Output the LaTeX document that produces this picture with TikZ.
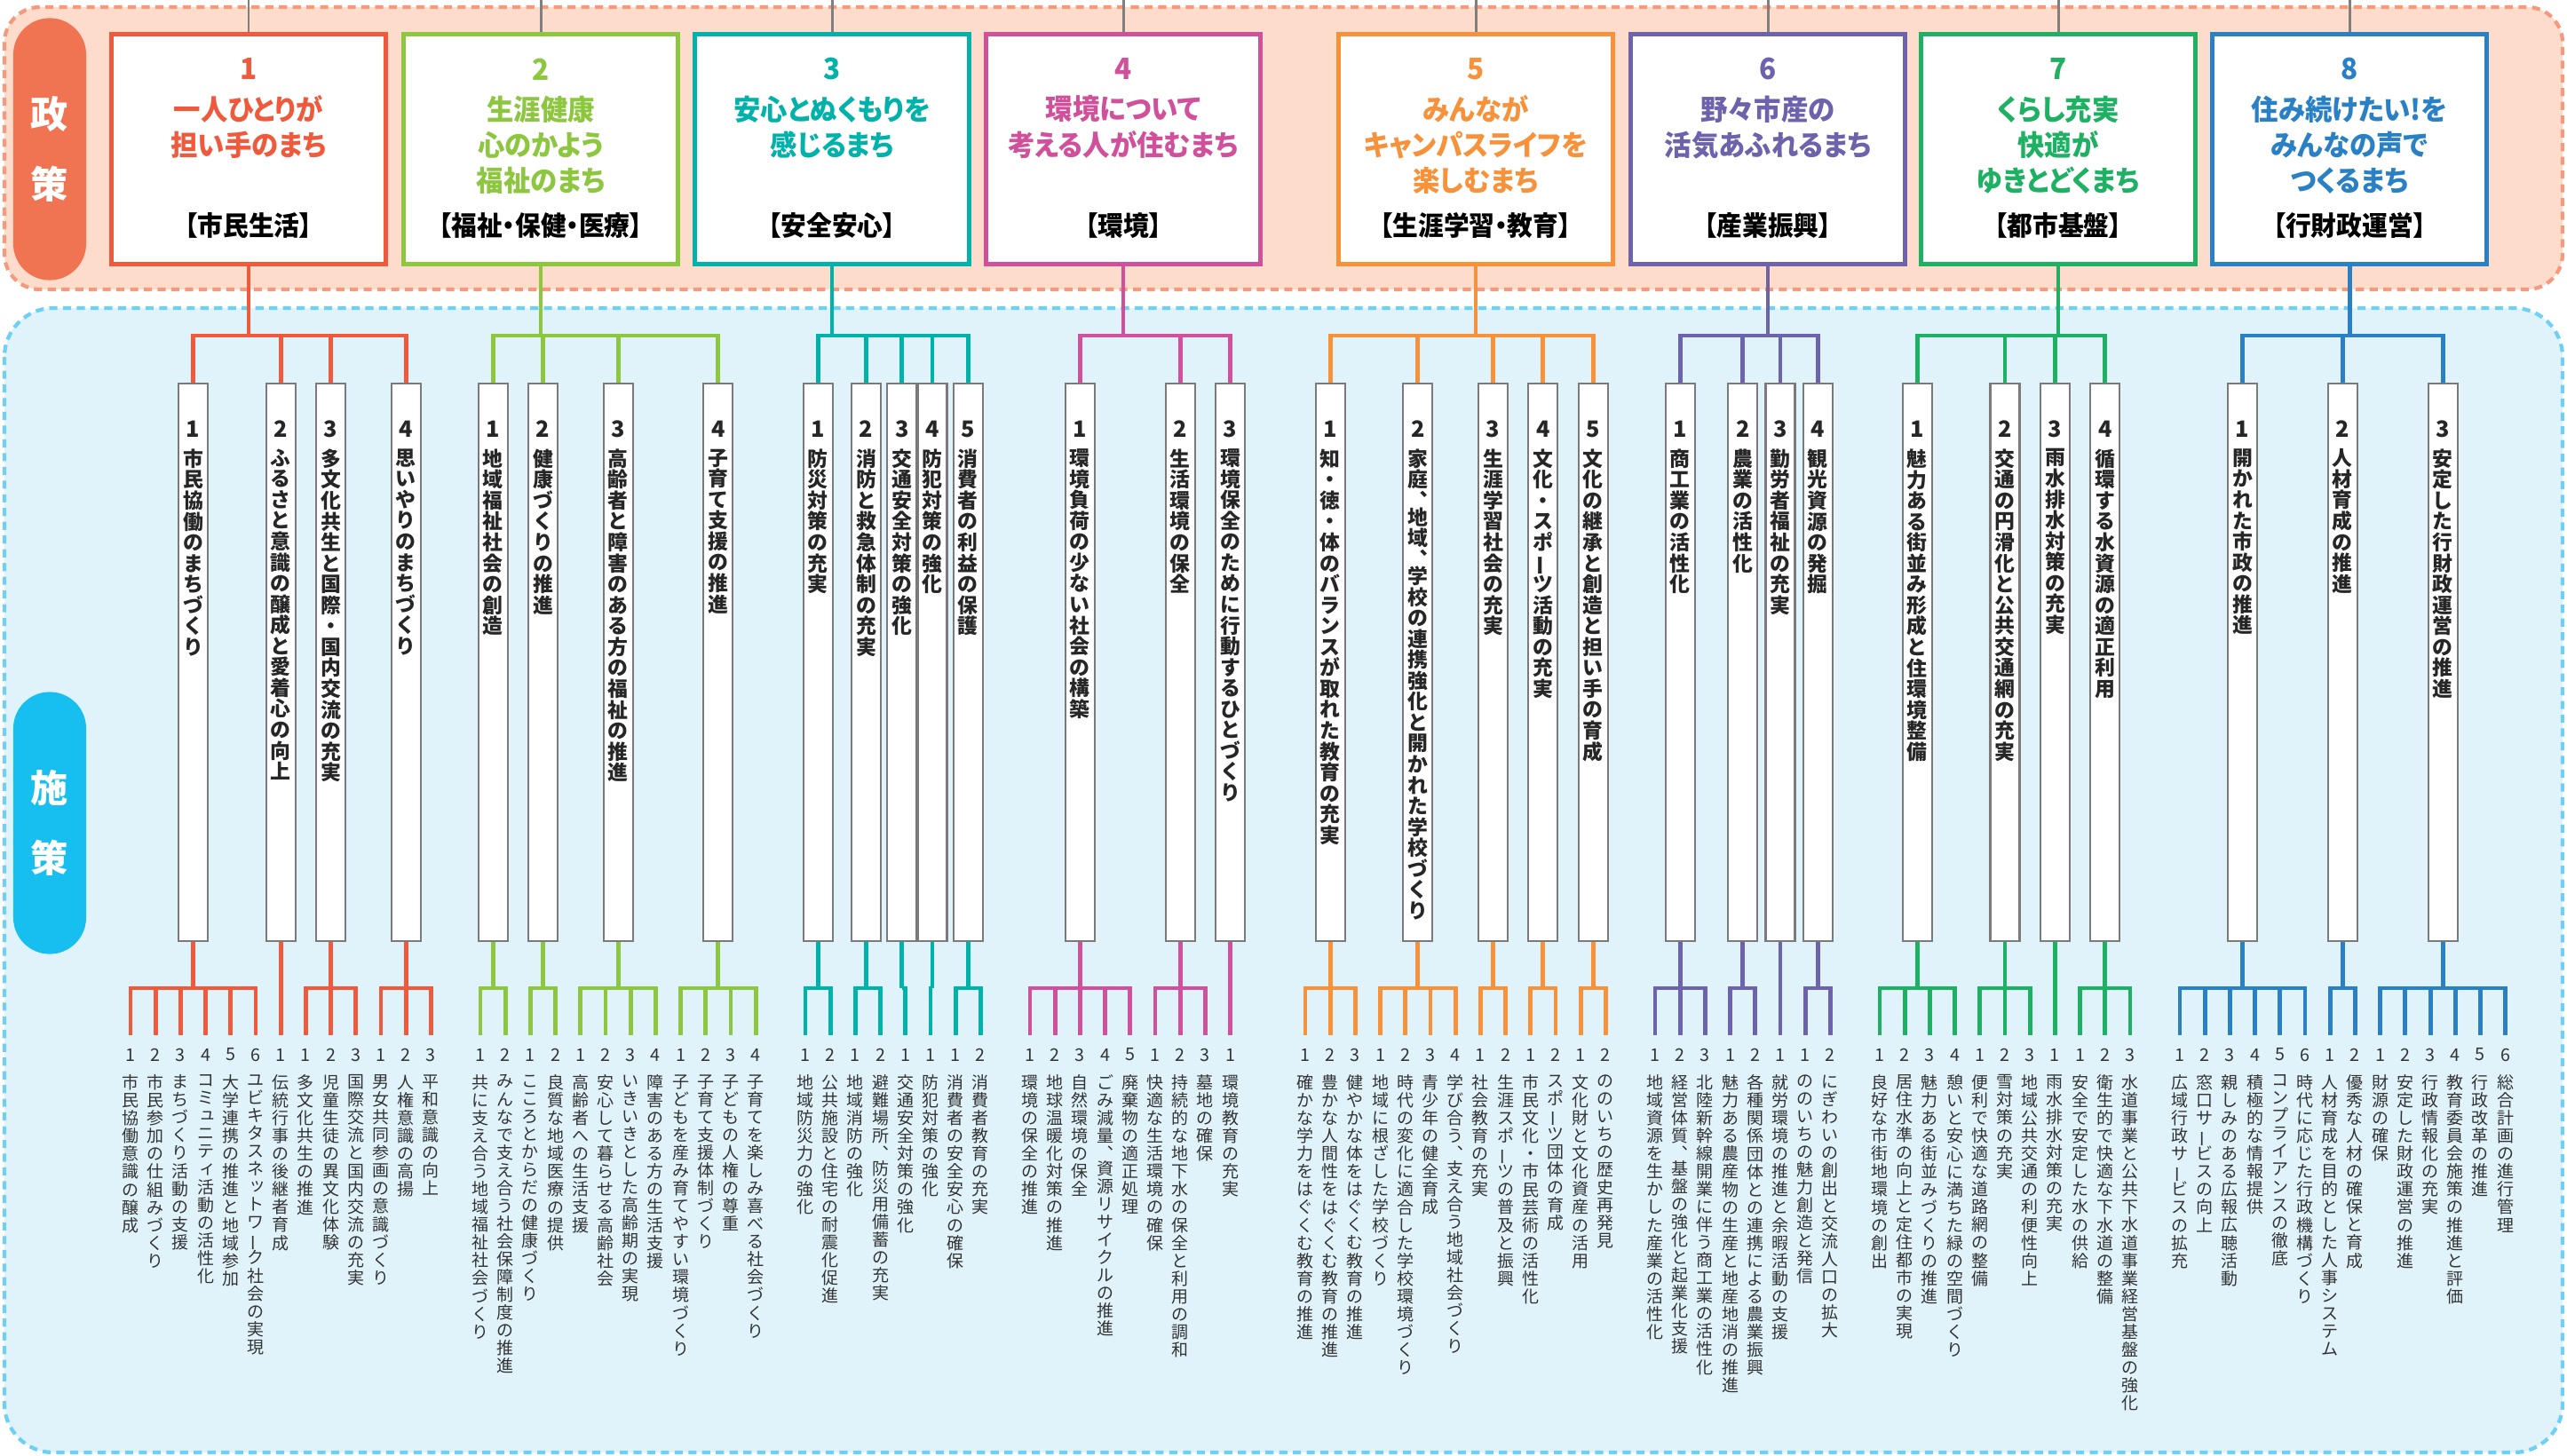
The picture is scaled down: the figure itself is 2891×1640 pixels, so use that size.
\documentclass[tikz,border=0pt]{standalone}
\usepackage{fontspec}
\setmainfont{Noto Sans CJK JP}
\newfontfamily\jptitle{Noto Sans CJK JP}[RawFeature=+palt, FakeStretch=0.95]
\definecolor{pol1}{HTML}{EF5A3D}
\definecolor{pol2}{HTML}{8DC63F}
\definecolor{pol3}{HTML}{00B2A9}
\definecolor{pol4}{HTML}{D0509B}
\definecolor{pol5}{HTML}{F7923A}
\definecolor{pol6}{HTML}{6D62AC}
\definecolor{pol7}{HTML}{1EB063}
\definecolor{pol8}{HTML}{2A80C5}
\definecolor{seiband}{HTML}{FDDCCC}
\definecolor{seidash}{HTML}{F59A7D}
\definecolor{seipill}{HTML}{F07352}
\definecolor{shiband}{HTML}{E0F3FB}
\definecolor{shidash}{HTML}{6FD0F5}
\definecolor{shipill}{HTML}{16BFF0}
\definecolor{feedgray}{HTML}{7F7F7F}
\definecolor{boxgray}{HTML}{7A7A7A}
\definecolor{txtgray}{HTML}{333333}
% vertical (tate) text: one upright character per line
\ExplSyntaxOn
\tl_new:N \l__tate_tl
\cs_new_protected:Npn \__tate_char:n #1
  {
    \str_case:nnF {#1}
      {
        {ー} { \hbox_to_wd:nn {1em} { \hss \smash{\rotatebox[origin=c]{90}{ー}} \hss } }
        {、} { \hbox_to_wd:nn {1em} { \hss ︑ \hss } \kern-0.2em }
      }
      {
        \tl_if_in:nnTF { ァィゥェォッャュョぁぃぅぇぉっゃゅょ } {#1}
          { \hbox_to_wd:nn {1em} { \kern0.12em \raisebox{0.1em}{#1} \hss } }
          { \hbox_to_wd:nn {1em} { \hss #1 \hss } }
      }
  }
\NewDocumentCommand \tate { m }
  {
    \tl_set:Nx \l__tate_tl {#1}
    \vbox { \tl_map_function:NN \l__tate_tl \__tate_char:n }
  }
\ExplSyntaxOff

\begin{document}
\begin{tikzpicture}[x=0.01cm, y=-0.01cm,
  band/.style={line width=1.2pt, dash pattern=on 2.6pt off 1.8pt},
  pill/.style={rounded corners=0.41cm, minimum width=0.82cm, minimum height=2.95cm, inner sep=0pt,
    align=center, text=white, font=\bfseries\fontsize{12pt}{22.6pt}\selectfont},
  polbox/.style={line width=1.4pt, fill=white, minimum width=3.08cm, minimum height=2.58cm, inner sep=0pt},
  poldigit/.style={inner sep=0pt, font=\jptitle\bfseries\fontsize{9.4pt}{11pt}\selectfont},
  poltitle/.style={anchor=north, align=center, inner sep=0pt, font=\jptitle\bfseries\fontsize{9.1pt}{11.4pt}\selectfont},
  polcat/.style={inner sep=0pt, text=black, font=\jptitle\bfseries\fontsize{8.6pt}{10pt}\selectfont},
  subbox/.style={draw=boxgray, line width=0.6pt, fill=white, minimum width=0.33cm, minimum height=6.28cm, inner sep=0pt},
  subnum/.style={inner sep=0pt, text=black!85, font=\bfseries\fontsize{7.2pt}{8pt}\selectfont},
  subtxt/.style={anchor=north, inner sep=0pt, text=black!85, font=\bfseries\fontsize{6.5pt}{6.7pt}\selectfont},
  itemnum/.style={inner sep=0pt, text=txtgray, font=\fontsize{5.6pt}{6pt}\selectfont},
  itemtxt/.style={anchor=north, inner sep=0pt, text=txtgray, font=\fontsize{5.4pt}{5.7pt}\selectfont},
  tree/.style={line width=1.4pt},
  feed/.style={draw=feedgray, line width=0.85pt},
]
\useasboundingbox (0,0) rectangle (2891,1640);
\fill[white] (0,0) rectangle (2891,1640);
% 1 px of the page = 0.01cm, y runs downwards
\draw[band, draw=seidash, fill=seiband, rounded corners=0.4cm] (5,8) rectangle (2886,326);
\draw[band, draw=shidash, fill=shiband, rounded corners=0.55cm] (5,347) rectangle (2886,1636);
\node[pill, fill=seipill] (seipill) at (56,168) {政\\策};
\node[pill, fill=shipill] (shipill) at (56,927) {施\\策};

% policies
\foreach \p/\x/\ttl/\cat in {%
  1/280/{一人ひとりが\\担い手のまち}/{【市民生活】},
  2/609/{生涯健康\\心のかよう\\福祉のまち}/{【福祉・保健・医療】},
  3/937/{安心とぬくもりを\\感じるまち}/{【安全安心】},
  4/1265/{環境について\\考える人が住むまち}/{【環境】},
  5/1662/{みんなが\\キャンパスライフを\\楽しむまち}/{【生涯学習・教育】},
  6/1991/{野々市産の\\活気あふれるまち}/{【産業振興】},
  7/2318/{くらし充実\\快適が\\ゆきとどくまち}/{【都市基盤】},
  8/2646/{住み続けたい!を\\みんなの声で\\つくるまち}/{【行財政運営】}%
} {
  \coordinate (top\p) at (\x,0);
  \coordinate (j\p) at (\x,378);
  \node[polbox, draw=pol\p] (p\p) at (\x,168) {};
  \node[poldigit, text=pol\p] (pn\p) at (\x,78) {\p};
  \node[poltitle, text=pol\p] (pt\p) at (\x,107) {\ttl};
  \node[polcat] (pc\p) at (\x,254) {\cat};
  \draw[feed] (top\p) -- (p\p.north);
  \draw[tree, draw=pol\p] (p\p.south) -- (j\p);
}

% measures: policy / number / x of first item / index of first item / items / shift of box / title / items
\foreach \p/\s/\base/\st/\cnt/\dx/\ttl/\items in {%
  1/1/147/0/6/0/{市民協働のまちづくり}/{市民協働意識の醸成,市民参加の仕組みづくり,まちづくり活動の支援,コミュニティ活動の活性化,大学連携の推進と地域参加,ユビキタスネットワーク社会の実現},
  1/2/147/6/1/0/{ふるさと意識の醸成と愛着心の向上}/{伝統行事の後継者育成},
  1/3/147/7/3/0/{多文化共生と国際・国内交流の充実}/{多文化共生の推進,児童生徒の異文化体験,国際交流と国内交流の充実},
  1/4/147/10/3/0/{思いやりのまちづくり}/{男女共同参画の意識づくり,人権意識の高揚,平和意識の向上},
  2/1/541/0/2/0/{地域福祉社会の創造}/{共に支え合う地域福祉社会づくり,みんなで支え合う社会保障制度の推進},
  2/2/541/2/2/0/{健康づくりの推進}/{こころとからだの健康づくり,良質な地域医療の提供},
  2/3/541/4/4/0/{高齢者と障害のある方の福祉の推進}/{高齢者への生活支援,安心して暮らせる高齢社会,いきいきとした高齢期の実現,障害のある方の生活支援},
  2/4/541/8/4/0/{子育て支援の推進}/{子どもを産み育てやすい環境づくり,子育て支援体制づくり,子どもの人権の尊重,子育てを楽しみ喜べる社会づくり},
  3/1/907/0/2/0/{防災対策の充実}/{地域防災力の強化,公共施設と住宅の耐震化促進},
  3/2/907/2/2/-2/{消防と救急体制の充実}/{地域消防の強化,避難場所、防災用備蓄の充実},
  3/3/907/4/1/-4/{交通安全対策の強化}/{交通安全対策の強化},
  3/4/907/5/1/2/{防犯対策の強化}/{防犯対策の強化},
  3/5/907/6/2/0/{消費者の利益の保護}/{消費者の安全安心の確保,消費者教育の充実},
  4/1/1160/0/5/0/{環境負荷の少ない社会の構築}/{環境の保全の推進,地球温暖化対策の推進,自然環境の保全,ごみ減量、資源リサイクルの推進,廃棄物の適正処理},
  4/2/1160/5/3/0/{生活環境の保全}/{快適な生活環境の確保,持続的な地下水の保全と利用の調和,墓地の確保},
  4/3/1160/8/1/0/{環境保全のために行動するひとづくり}/{環境教育の充実},
  5/1/1470/0/3/0/{知・徳・体のバランスが取れた教育の充実}/{確かな学力をはぐくむ教育の推進,豊かな人間性をはぐくむ教育の推進,健やかな体をはぐくむ教育の推進},
  5/2/1470/3/4/0/{家庭、地域、学校の連携強化と開かれた学校づくり}/{地域に根ざした学校づくり,時代の変化に適合した学校環境づくり,青少年の健全育成,学び合う、支え合う地域社会づくり},
  5/3/1470/7/2/0/{生涯学習社会の充実}/{社会教育の充実,生涯スポーツの普及と振興},
  5/4/1470/9/2/0/{文化・スポーツ活動の充実}/{市民文化・市民芸術の活性化,スポーツ団体の育成},
  5/5/1470/11/2/0/{文化の継承と創造と担い手の育成}/{文化財と文化資産の活用,ののいちの歴史再発見},
  6/1/1864/0/3/0/{商工業の活性化}/{地域資源を生かした産業の活性化,経営体質、基盤の強化と起業化支援,北陸新幹線開業に伴う商工業の活性化},
  6/2/1864/3/2/0/{農業の活性化}/{魅力ある農産物の生産と地産地消の推進,各種関係団体との連携による農業振興},
  6/3/1864/5/1/0/{勤労者福祉の充実}/{就労環境の推進と余暇活動の支援},
  6/4/1864/6/2/0/{観光資源の発掘}/{ののいちの魅力創造と発信,にぎわいの創出と交流人口の拡大},
  7/1/2117/0/4/0/{魅力ある街並み形成と住環境整備}/{良好な市街地環境の創出,居住水準の向上と定住都市の実現,魅力ある街並みづくりの推進,憩いと安心に満ちた緑の空間づくり},
  7/2/2117/4/3/0/{交通の円滑化と公共交通網の充実}/{便利で快適な道路網の整備,雪対策の充実,地域公共交通の利便性向上},
  7/3/2117/7/1/0/{雨水排水対策の充実}/{雨水排水対策の充実},
  7/4/2117/8/3/0/{循環する水資源の適正利用}/{安全で安定した水の供給,衛生的で快適な下水道の整備,水道事業と公共下水道事業経営基盤の強化},
  8/1/2455/0/6/0/{開かれた市政の推進}/{広域行政サービスの拡充,窓口サービスの向上,親しみのある広報広聴活動,積極的な情報提供,コンプライアンスの徹底,時代に応じた行政機構づくり},
  8/2/2455/6/2/0/{人材育成の推進}/{人材育成を目的とした人事システム,優秀な人材の確保と育成},
  8/3/2455/8/6/0/{安定した行財政運営の推進}/{財源の確保,安定した財政運営の推進,行政情報化の充実,教育委員会施策の推進と評価,行政改革の推進,総合計画の進行管理}%
} {
  \pgfmathsetmacro{\cx}{\base+(\st+(\cnt-1)/2)*28.2+\dx}
  \node[subbox] (s\p-\s) at (\cx,746) {};
  \node[subnum] (sn\p-\s) at (\cx,483) {\s};
  \node[subtxt] (st\p-\s) at (\cx,505) {\tate{\ttl}};
  \coordinate (k\p-\s) at (\cx,1113);
  \draw[tree, draw=pol\p] (s\p-\s.north) |- (j\p);
  \draw[tree, draw=pol\p] (s\p-\s.south) -- (k\p-\s);
  \foreach \itm [count=\k] in \items {
    \pgfmathsetmacro{\ix}{\base+(\st+\k-1)*28.2}
    \coordinate (e\p-\s-\k) at (\ix,1166);
    \node[itemnum] (n\p-\s-\k) at (\ix,1188) {\k};
    \node[itemtxt] (t\p-\s-\k) at (\ix,1210) {\tate{\itm}};
    \draw[tree, draw=pol\p] (e\p-\s-\k) |- (k\p-\s);
  }
}
\end{tikzpicture}
\end{document}
